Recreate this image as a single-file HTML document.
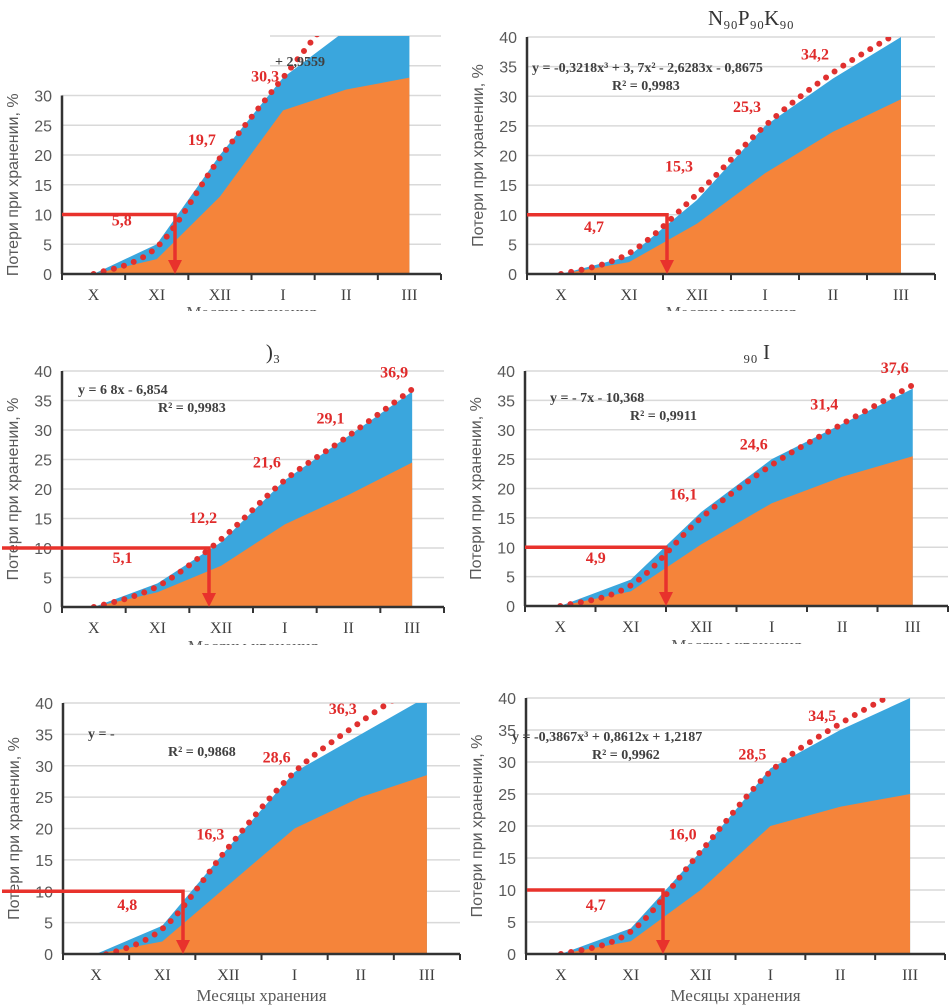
<!DOCTYPE html>
<html><head><meta charset="utf-8">
<style>
html,body{margin:0;padding:0;background:#fff;width:951px;height:1006px;overflow:hidden}
svg{display:block}
.tk{font-family:"Liberation Sans",sans-serif;font-size:16px;fill:#595959}
.mo{font-family:"Liberation Serif",serif;font-size:16px;fill:#404040}
.yt{font-family:"Liberation Sans",sans-serif;font-size:16px;fill:#595959}
.xt{font-family:"Liberation Serif",serif;font-size:17px;fill:#595959}
.lb{font-family:"Liberation Serif",serif;font-size:16px;font-weight:bold;fill:#e02b2b}
.eq{font-family:"Liberation Serif",serif;font-size:14px;font-weight:bold;fill:#404040}
.ti{font-family:"Liberation Serif",serif;font-size:21px;fill:#333}
</style></head>
<body>
<svg id="chart" width="951" height="1006" viewBox="0 0 951 1006" xmlns="http://www.w3.org/2000/svg"></svg>
<script>
const months = ["X","XI","XII","I","II","III"];
const yTicks = [0,5,10,15,20,25,30,35,40];
// panel 1
const orange1 = [0,2.5,13,27.5,31,33];
const blue1 = [0,5,20,33,41,41];
const trend1 = [0,4.5,19.5,33,46,55];
const labels1 = [5.8,19.7,30.3];
const labelIdx1 = [1,2,3];
// panel 2
const orange2 = [0,2,8.5,17,24,29.5];
const blue2 = [0,3,12.5,25,33,40];
const trend2 = [0,3.5,13.5,25,34,41];
const labels2 = [4.7,15.3,25.3,34.2];
const labelIdx2 = [1,2,3,4];
// panel 3
const orange3 = [0,2.5,7,14,19,24.5];
const blue3 = [0,4,11,21.5,29,36.5];
const trend3 = [0,3.5,11.5,21.5,29,36.9];
const labels3 = [5.1,12.2,21.6,29.1,36.9];
const labelIdx3 = [1,2,3,4,5];
// panel 4
const orange4 = [0,2.5,10.5,17.5,22,25.5];
const blue4 = [0,4.5,16,25,31,37];
const trend4 = [0,3.5,15,24,31,37.6];
const labels4 = [4.9,16.1,24.6,31.4,37.6];
const labelIdx4 = [1,2,3,4,5];
// panel 5
const orange5 = [0,2,11,20,25,28.5];
const blue5 = [0,4.5,17,29,35,41];
const trend5 = [-0.5,4,17,29,37,44];
const labels5 = [4.8,16.3,28.6,36.3];
const labelIdx5 = [1,2,3,4];
// panel 6
const orange6 = [0,2,10,20,23,25];
const blue6 = [0,4,16,29,35,40];
const trend6 = [0,3.5,16,28.5,36,42];
const labels6 = [4.7,16.0,28.5,34.5];
const labelIdx6 = [1,2,3,4];
const arrowVal = 10;

const NS="http://www.w3.org/2000/svg";
const svg=document.getElementById('chart');
function mk(tag,attrs,parent){const e=document.createElementNS(NS,tag);for(const k in attrs)e.setAttribute(k,attrs[k]);(parent||svg).appendChild(e);return e;}

const panels=[
 {x0:62,xEnd:441,y0:274,y40:36,o:orange1,b:blue1,t:trend1,l:labels1,li:labelIdx1,ax:175,hx:62,title:"",eq:"+ 2,9559",eqx:275,eqy:66,r2:"",axTop:30,gx:270,xty:318,cut:true},
 {x0:527,xEnd:935,y0:274,y40:37,o:orange2,b:blue2,t:trend2,l:labels2,li:labelIdx2,ax:667,hx:527,title:"N\u2089\u2080P\u2089\u2080K\u2089\u2080",eq:"y = -0,3218x³ + 3,  7x² - 2,6283x - 0,8675",eqx:532,eqy:72,r2:"R² = 0,9983",axTop:40,gx:527,xty:318,cut:true},
 {x0:62,xEnd:444,y0:607,y40:371,o:orange3,b:blue3,t:trend3,l:labels3,li:labelIdx3,ax:209,hx:2,title:")\u2083",eq:"y = 6             8x - 6,854",eqx:78,eqy:394,r2:"R² = 0,9983",axTop:40,gx:62,xty:652,cut:true},
 {x0:525,xEnd:948,y0:606,y40:371,o:orange4,b:blue4,t:trend4,l:labels4,li:labelIdx4,ax:666,hx:525,title:"\u2089\u2080    I",eq:"y = -                  7x - 10,368",eqx:550,eqy:402,r2:"R² = 0,9911",axTop:40,gx:525,xty:651,cut:true},
 {x0:63,xEnd:460,y0:954,y40:703,o:orange5,b:blue5,t:trend5,l:labels5,li:labelIdx5,ax:183,hx:2,title:"",eq:"y = -",eqx:88,eqy:738,r2:"R² = 0,9868",axTop:40,gx:63,xty:1001,cut:false},
 {x0:526,xEnd:945,y0:954,y40:698,o:orange6,b:blue6,t:trend6,l:labels6,li:labelIdx6,ax:663,hx:527,title:"",eq:"y = -0,3867x³ +          0,8612x + 1,2187",eqx:512,eqy:741,r2:"R² = 0,9962",axTop:40,gx:526,xty:1001,cut:false}
];

panels.forEach((p,pi)=>{
 const step=(p.xEnd-p.x0)/6;
 const xc=i=>p.x0+(i+0.5)*step;
 const ys=v=>p.y0-(v/40)*(p.y0-p.y40);
 const g=mk('g',{});
 
 
 const cid='clip'+pi;
 const cp=mk('clipPath',{id:cid},g);
 mk('rect',{x:p.x0,y:p.y40,width:p.xEnd-p.x0,height:p.y0-p.y40},cp);
 yTicks.forEach(v=>{ if(v===0)return;
  const gl=mk('line',{x1:(v>p.axTop?p.gx:p.x0),x2:p.xEnd,y1:ys(v),y2:ys(v),stroke:'#d9d9d9','stroke-width':1.5},g);
  
  
 });
 const area=(arr,color,name)=>{
  let d='M'+xc(0)+','+ys(0);
  arr.forEach((v,i)=>{d+=' L'+xc(i)+','+ys(v);});
  d+=' L'+xc(arr.length-1)+','+ys(0)+' Z';
  const a=mk('path',{d:d,fill:color,'clip-path':'url(#'+cid+')'},g);
  
  
 };
 area(p.b,'#3aa6dd','blue-area');
 area(p.o,'#f5843a','orange-area');
 const pts=p.t.map((v,i)=>[xc(i),ys(v)]);
 pts.unshift([xc(0)-step*0.3, ys(p.t[0])]);
 let d='M'+pts[1][0]+','+pts[1][1];
 for(let i=1;i<pts.length-1;i++){
  const p0=pts[i-1],p1=pts[i],p2=pts[i+1],p3=pts[i+2]||p2;
  d+=' C'+(p1[0]+(p2[0]-p0[0])/6)+','+(p1[1]+(p2[1]-p0[1])/6)+' '+(p2[0]-(p3[0]-p1[0])/6)+','+(p2[1]-(p3[1]-p1[1])/6)+' '+p2[0]+','+p2[1];
 }
 const tr=mk('path',{d:d,fill:'none',stroke:'#e0302f','stroke-width':6,'stroke-linecap':'round','stroke-dasharray':'0 10.5','clip-path':'url(#'+cid+')'},g);
 
 
 const yAx=mk('line',{x1:p.x0,x2:p.x0,y1:ys(p.axTop),y2:p.y0,stroke:'#333','stroke-width':2.5},g);
 
 
 const xAx=mk('line',{x1:p.x0,x2:p.xEnd,y1:p.y0,y2:p.y0,stroke:'#333','stroke-width':2.5},g);
 
 
 for(let i=0;i<=6;i++){
  const tk=mk('line',{x1:p.x0+i*step,x2:p.x0+i*step,y1:p.y0,y2:p.y0+6,stroke:'#333','stroke-width':2},g);
  
  
 }
 yTicks.forEach(v=>{ if(v>p.axTop)return;
  const t=mk('text',{x:p.x0-10,y:ys(v)+6,'text-anchor':'end',class:'tk'},g);
  t.textContent=v;
  
  
 });
 months.forEach((m,i)=>{
  const t=mk('text',{x:xc(i),y:p.y0+26,'text-anchor':'middle',class:'mo'},g);
  t.textContent=m;
  
  
 });
 const yt=mk('text',{x:0,y:0,'text-anchor':'middle',class:'yt',transform:'translate('+(p.x0-44)+','+((p.y0+ys(p.axTop))/2)+') rotate(-90)'},g);
 yt.textContent='Потери при хранении, %';
 
 
 const xtAttrs={x:(p.x0+p.xEnd)/2,y:p.xty,'text-anchor':'middle',class:'xt'};
 if(p.cut){
  const xc2='xclip'+pi;
  const c2=mk('clipPath',{id:xc2},g);
  mk('rect',{x:p.x0,y:p.xty-14,width:p.xEnd-p.x0,height:7},c2);
  xtAttrs['clip-path']='url(#'+xc2+')';
 }
 const xt=mk('text',xtAttrs,g);
 xt.textContent='Месяцы хранения';
 
 
 const hl=mk('path',{d:'M'+p.hx+','+ys(arrowVal)+' L'+p.ax+','+ys(arrowVal)+' L'+p.ax+','+(p.y0-12),fill:'none',stroke:'#e8322c','stroke-width':3.5},g);
 
 
 const ah=mk('path',{d:'M'+(p.ax-7)+','+(p.y0-14)+' L'+(p.ax+7)+','+(p.y0-14)+' L'+p.ax+','+p.y0+' Z',fill:'#e8322c'},g);
 
 
 p.l.forEach((v,k)=>{
  const i=p.li[k];
  const t=mk('text',{x:xc(i)-(i===1?35:18),y:ys(v)+(i===1?-14:-12),'text-anchor':'middle',class:'lb'},g);
  t.textContent=v.toFixed(1).replace('.',',');
  
  
 });
 const eq=mk('text',{x:p.eqx,y:p.eqy,class:'eq'},g);
 eq.textContent=p.eq;
 
 
 if(p.r2){
  const r=mk('text',{x:p.eqx+80,y:p.eqy+18,class:'eq'},g);
  r.textContent=p.r2;
  
  
 }
 if(p.title){
  const ti=mk('text',{x:(p.x0+p.xEnd)/2+20,y:p.y40-12,'text-anchor':'middle',class:'ti'},g);
  ti.textContent=p.title;
  
  
 }
});
</script>
</body></html>
